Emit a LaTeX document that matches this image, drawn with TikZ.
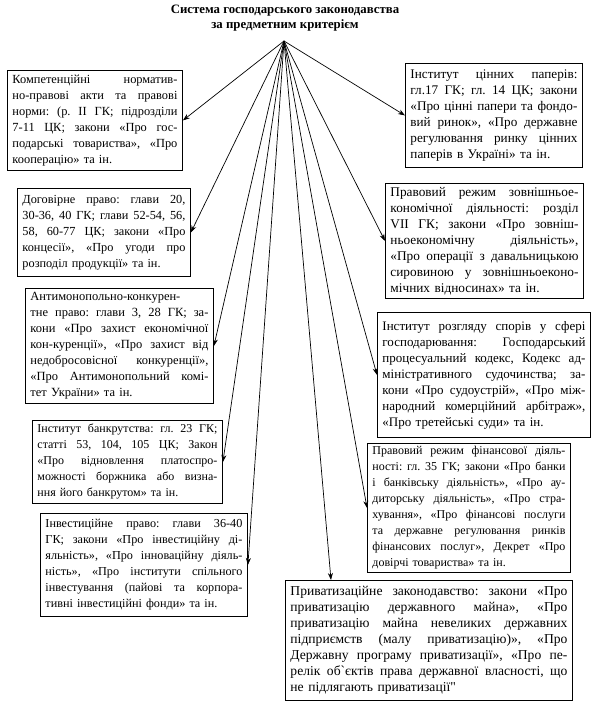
\documentclass[tikz,border=0pt]{standalone}
\usepackage{fontspec}
\setmainfont{Liberation Serif}
\newfontfamily\rawf{Liberation Serif}
\usetikzlibrary{arrows.meta,calc}
\newlength\jlw
\newcommand\jl[1]{\setbox0=\hbox{#1}%
  \ifdim\wd0>\jlw
    \pgfmathsetmacro\jlr{\jlw/\wd0}%
    \hbox to\jlw{\scalebox{\jlr}[1]{\box0}\hss}%
  \else
    \hbox to\jlw{\spaceskip=0.25em plus 8em minus 0.05em\relax #1}%
  \fi}
\newcommand\lastl[1]{\hbox{#1}}
\newcommand\fs[1]{\fontsize{#1}{16}\selectfont\frenchspacing}
\tikzset{
  box/.style={draw, line width=0.9pt, inner xsep=5pt, inner ysep=3pt, anchor=north west,
    font=\fs{12}, text width=#1,
    execute at begin node={\setlength\jlw{#1}\frenchspacing}},
  arr/.style={-{Stealth[length=7pt,width=5pt]}, line width=0.7pt},
  ttl/.style={font=\bfseries\fontsize{12.8}{14.5}\selectfont, align=center}
}
\begin{document}
\begin{tikzpicture}[x=1pt,y=-1pt]
\useasboundingbox (0,0) rectangle (594,706);
\node[ttl] (title) at (285,18) {Система господарського законодавства\\за предметним критерієм};
\coordinate (apex) at (284,41);

\node[box=165pt, minimum height=100pt, font=\fs{12.4}] (b1) at (7,70) {%
\jl{Компетенційні норматив-}
\jl{но-правові акти та правові}
\jl{норми: (р. II ГК; підрозділи}
\jl{7-11 ЦК; закони «Про гос-}
\jl{подарські товариства», «Про}
\lastl{кооперацію» та ін.}};

\node[box=167pt, minimum height=104pt, font=\fs{13.2}] (b2) at (405,63) {%
\jl{Інститут цінних паперів:}
\jl{гл.17 ГК; гл. 14 ЦК; закони}
\jl{«Про цінні папери та фондо-}
\jl{вий ринок», «Про державне}
\jl{регулювання ринку цінних}
\lastl{паперів в Україні» та ін.}};

\node[box=163pt, minimum height=88pt, font=\fs{12.3}] (b3) at (17,188) {%
\jl{Договірне право: глави 20,}
\jl{30-36, 40 ГК; глави 52-54, 56,}
\jl{58, 60-77 ЦК; закони «Про}
\jl{концесії», «Про угоди про}
\lastl{розподіл продукції» та ін.}};

\node[box=188pt, minimum height=115pt, font=\fs{13.3}] (b5) at (385,183) {%
\jl{Правовий режим зовнішньое-}
\jl{кономічної діяльності: розділ}
\jl{VII ГК; закони «Про зовніш-}
\jl{ньоекономічну діяльність»,}
\jl{«Про операції з давальницькою}
\jl{сировиною у зовнішньоеконо-}
\lastl{мічних відносинах» та ін.}};

\node[box=178pt, minimum height=115pt, font=\fs{12.5}] (b4) at (25,288) {%
\jl{Антимонопольно-конкурен-}
\jl{тне право: глави 3, 28 ГК; за-}
\jl{кони «Про захист економічної}
\jl{кон-куренції», «Про захист від}
\jl{недобросовісної конкуренції»,}
\jl{«Про Антимонопольний комі-}
\lastl{тет України» та ін.}};

\node[box=203pt, minimum height=125pt, font=\fs{13}] (b6) at (377,312) {%
\jl{Інститут розгляду спорів у сфері}
\jl{господарювання: Господарський}
\jl{процесуальний кодекс, Кодекс ад-}
\jl{міністративного судочинства; за-}
\jl{кони «Про судоустрій», «Про між-}
\jl{народний комерційний арбітраж»,}
\lastl{«Про третейські суди» та ін.}};

\node[box=180pt, minimum height=83pt, font=\fs{12}] (b8) at (32,420) {%
\jl{Інститут банкрутства: гл. 23 ГК;}
\jl{статті 53, 104, 105 ЦК; Закон}
\jl{«Про відновлення платоспро-}
\jl{можності боржника або визна-}
\lastl{ння його банкрутом» та ін.}};

\node[box=193pt, minimum height=127pt, font=\fs{12}] (b7) at (367,443) {%
\jl{Правовий режим фінансової діяль-}
\jl{ності: гл. 35 ГК; закони «Про банки}
\jl{і банківську діяльність», «Про ау-}
\jl{диторську діяльність», «Про стра-}
\jl{хування», «Про фінансові послуги}
\jl{та державне регулювання ринків}
\jl{фінансових послуг», Декрет «Про}
\lastl{довірчі товариства» та ін.}};

\node[box=197pt, minimum height=103pt, font=\fs{12.2}] (b9) at (40,513) {%
\jl{Інвестиційне право: глави 36-40}
\jl{ГК; закони «Про інвестиційну ді-}
\jl{яльність», «Про інноваційну діяль-}
\jl{ність», «Про інститути спільного}
\jl{інвестування (пайові та корпора-}
\lastl{тивні інвестиційні фонди» та ін.}};

\node[box=277pt, minimum height=120pt, font=\fs{13.6}] (b10) at (285,580) {%
\jl{Приватизаційне законодавство: закони «Про}
\jl{приватизацію державного майна», «Про}
\jl{приватизацію майна невеликих державних}
\jl{підприємств (малу приватизацію)», «Про}
\jl{Державну програму приватизації», «Про пе-}
\jl{релік об{\rawf `}єктів права державної власності, що}
\lastl{не підлягають приватизації{\rawf "}}};

\coordinate (b10t) at ($(b10.north west)+(46,0)$);

\draw[arr] (apex) -- (b1.east);
\draw[arr] (apex) -- (b2.west);
\draw[arr] (apex) -- (b3.east);
\draw[arr] (apex) -- (b4.east);
\draw[arr] (apex) -- (b5.west);
\draw[arr] (apex) -- (b6.west);
\draw[arr] (apex) -- (b8.east);
\draw[arr] (apex) -- (b7.west);
\draw[arr] (apex) -- (b9.east);
\draw[arr] (apex) -- (b10t);
\end{tikzpicture}
\end{document}
